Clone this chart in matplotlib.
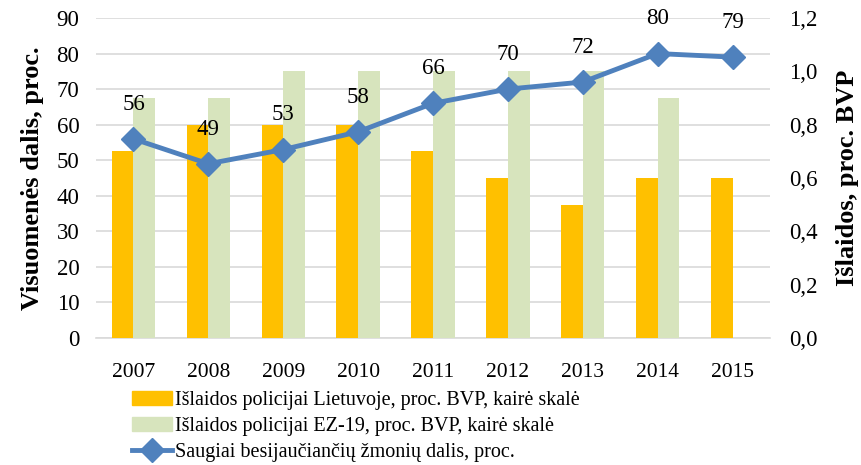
import matplotlib
matplotlib.use("Agg")
import matplotlib.pyplot as plt
import numpy as np
from matplotlib.lines import Line2D
from matplotlib.patches import Patch

plt.rcParams['font.family'] = ['Liberation Serif', 'DejaVu Serif']

years = ['2007', '2008', '2009', '2010', '2011', '2012', '2013', '2014', '2015']
lt_spend = [0.7, 0.8, 0.8, 0.8, 0.7, 0.6, 0.5, 0.6, 0.6]
ez_spend = [0.9, 0.9, 1.0, 1.0, 1.0, 1.0, 1.0, 0.9, np.nan]
safe_share = [56, 49, 53, 58, 66, 70, 72, 80, 79]

lbl_lt = 'Išlaidos policijai Lietuvoje, proc. BVP, kairė skalė'
lbl_ez = 'Išlaidos policijai EZ-19, proc. BVP, kairė skalė'
lbl_safe = 'Saugiai besijaučiančių žmonių dalis, proc.'

c_lt = '#FFC000'
c_ez = '#D7E4BD'
c_line = '#4F81BD'
c_grid = '#D9D9D9'

fig = plt.figure(figsize=(8.61, 4.65), dpi=100)
ax = fig.add_axes([96/861, 1-338/465, (770-96)/861, (338-18)/465])
x = np.arange(len(years))

# host: left scale, gridlines
ax.set_ylim(0, 90)
ax.set_xlim(-0.5, len(years)-0.5)
ax.set_yticks(np.arange(0, 91, 10))
ax.grid(axis='y', color=c_grid, linewidth=1.2)
ax.set_axisbelow(True)
for s in ['top', 'right', 'left']:
    ax.spines[s].set_visible(False)
ax.spines['bottom'].set_color(c_grid)
ax.spines['bottom'].set_linewidth(1.2)
ax.set_xticks(x)
ax.set_xticklabels(years)
ax.tick_params(axis='x', length=0, labelsize=15.5, pad=18)
ax.tick_params(axis='y', length=0, labelsize=16.5, pad=12)
ax.set_ylabel('Visuomenės dalis, proc.', fontsize=19, fontweight='bold', labelpad=9)

# bars on right scale
ax2 = ax.twinx()
ax2.set_ylim(0, 1.2)
ax2.set_yticks(np.arange(0, 1.21, 0.2))
ax2.set_yticklabels([f'{v:.1f}'.replace('.', ',') for v in np.arange(0, 1.21, 0.2)])
w = 0.29
ax2.bar(x - w/2, lt_spend, width=w, color=c_lt)
ax2.bar(x + w/2, ez_spend, width=w, color=c_ez)
for s in ['top', 'right', 'left', 'bottom']:
    ax2.spines[s].set_visible(False)
ax2.tick_params(axis='y', length=0, labelsize=16.5, pad=14)
ax2.set_ylabel('Išlaidos, proc. BVP', fontsize=19, fontweight='bold', labelpad=13)

# line on left scale, above bars
ax3 = ax.twinx()
ax3.set_ylim(0, 90)
ax3.set_xlim(-0.5, len(years)-0.5)
ax3.axis('off')
ax3.plot(x, safe_share, color=c_line, linewidth=3.5, marker='D', markersize=12)
for xi, v in zip(x, safe_share):
    ax3.annotate(str(v), (xi, v), xytext=(0, 25), textcoords='offset points',
                 ha='center', va='center', fontsize=16.5)

handles = [Patch(color=c_lt), Patch(color=c_ez),
           Line2D([0], [0], color=c_line, linewidth=3.5, marker='D', markersize=12)]
fig.legend(handles, [lbl_lt, lbl_ez, lbl_safe], loc='upper left',
           bbox_to_anchor=(132/861, 1-391/465), frameon=False, fontsize=14.5,
           handlelength=2.0, handleheight=0.7, labelspacing=0.33, handletextpad=0.15,
           borderpad=0, borderaxespad=0)

fig.savefig('out.png', dpi=100)
